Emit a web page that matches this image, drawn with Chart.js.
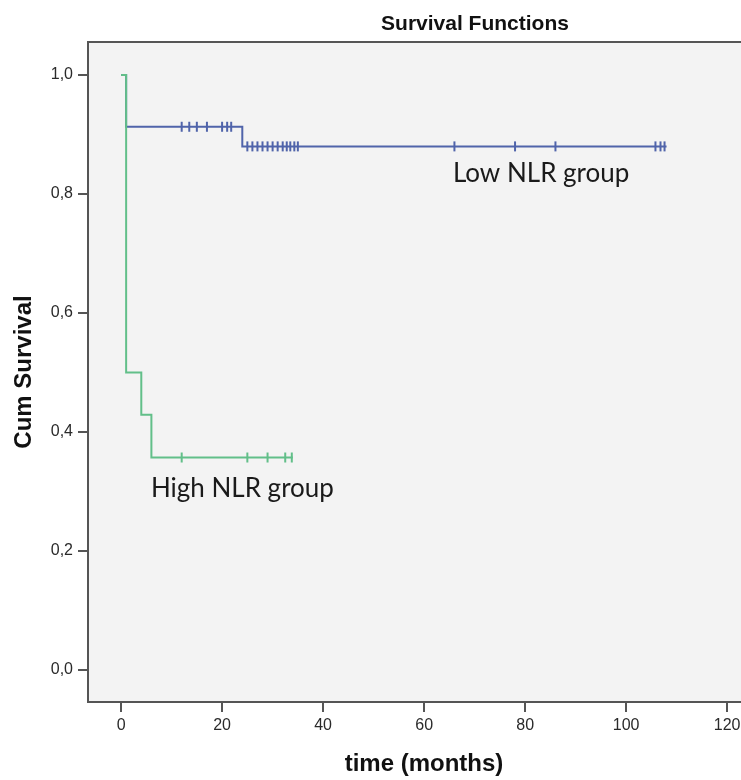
<!DOCTYPE html>
<html>
<head>
<meta charset="utf-8">
<script src="https://cdn.jsdelivr.net/npm/chart.js@4"></script>
<style>
html,body{margin:0;padding:0;background:#fff;overflow:hidden;width:741px;height:780px;}
#wrap{width:780px;height:780px;}
</style>
</head>
<body>
<div id="wrap"><canvas id="c" width="780" height="780"></canvas></div>
<script>
// ---- data ----
const chartTitle = 'Survival Functions';
const xAxisTitle = 'time (months)';
const yAxisTitle = 'Cum Survival';
const xTickValues = [0, 20, 40, 60, 80, 100, 120];
const xTickLabels = ['0', '20', '40', '60', '80', '100', '120'];
const yTickValues = [0, 0.2, 0.4, 0.6, 0.8, 1.0];
const yTickLabels = ['0,0', '0,2', '0,4', '0,6', '0,8', '1,0'];

// Low NLR group: step function (time, cumulative survival)
const lowTimes = [0, 1, 24, 108];
const lowSurv  = [1, 0.913, 0.880, 0.880];
const lowCensored = [12, 13.5, 15, 17, 20, 21, 21.8, 25, 26, 27, 28, 29, 30, 31, 32, 32.8, 33.5, 34.3, 35, 66, 78, 86, 105.8, 106.8, 107.6];

// High NLR group
const highTimes = [0, 1, 4, 6, 34];
const highSurv  = [1, 0.5, 0.429, 0.357, 0.357];
const highCensored = [12, 25, 29, 32.5, 33.8];

const lowLabel = 'Low NLR group';
const highLabel = 'High NLR group';

// ---- build datasets ----
function steps(times, surv){ return times.map((t,i)=>({x:t, y:surv[i]})); }
function survAt(times, surv, t){ let v = surv[0]; for(let i=0;i<times.length;i++){ if(times[i] <= t) v = surv[i]; } return v; }
function censorPts(cens, times, surv){ return cens.map(t=>({x:t, y:survAt(times, surv, t)})); }

const BLUE = '#5064aa';
const GREEN = '#62bf89';

const framePlugin = {
  id: 'frame',
  beforeDraw(chart){
    const {ctx, chartArea:a} = chart;
    ctx.save();
    ctx.fillStyle = '#ffffff';
    ctx.fillRect(0,0,chart.width,chart.height);
    ctx.fillStyle = '#f3f3f3';
    ctx.fillRect(a.left, a.top, a.right-a.left, a.bottom-a.top);
    ctx.restore();
  },
  afterDraw(chart){
    const {ctx, chartArea:a, scales} = chart;
    ctx.save();
    ctx.strokeStyle = '#555';
    ctx.lineWidth = 2;
    ctx.strokeRect(a.left, a.top, a.right-a.left, a.bottom-a.top);
    ctx.fillStyle = '#111';
    ctx.font = 'bold 21px "Liberation Sans", Arial, sans-serif';
    ctx.textAlign = 'center';
    ctx.textBaseline = 'alphabetic';
    ctx.fillText(chartTitle, 475, 30);
    ctx.font = '26px Lato, "Open Sans", sans-serif';
    ctx.textAlign = 'left';
    ctx.fillStyle = '#1a1a1a';
    ctx.fillText(lowLabel, scales.x.getPixelForValue(65.7), scales.y.getPixelForValue(0.82));
    ctx.fillText(highLabel, scales.x.getPixelForValue(5.9), scales.y.getPixelForValue(0.291));
    ctx.restore();
  }
};

new Chart(document.getElementById('c'), {
  type: 'line',
  data: {
    datasets: [
      { data: steps(lowTimes, lowSurv), stepped: 'before', borderColor: BLUE, borderWidth: 2, pointRadius: 0, fill: false, order: 3 },
      { data: censorPts(lowCensored, lowTimes, lowSurv), showLine: false, pointStyle: 'line', rotation: 90, pointRadius: 5, borderColor: BLUE, borderWidth: 2, order: 2 },
      { data: steps(highTimes, highSurv), stepped: 'before', borderColor: GREEN, borderWidth: 2, pointRadius: 0, fill: false, order: 1 },
      { data: censorPts(highCensored, highTimes, highSurv), showLine: false, pointStyle: 'line', rotation: 90, pointRadius: 5, borderColor: GREEN, borderWidth: 2, order: 0 }
    ]
  },
  options: {
    responsive: false,
    animation: false,
    events: [],
    layout: { padding: { top: 42, right: 20, left: 0, bottom: 0 } },
    plugins: { legend: { display: false }, tooltip: { enabled: false }, title: { display: false } },
    scales: {
      x: {
        type: 'linear', min: -6.55, max: 126.5,
        afterFit(s){ s.height = 78; },
        afterBuildTicks(s){ s.ticks = xTickValues.map(v=>({value:v})); },
        border: { display: false },
        grid: { drawOnChartArea: false, drawTicks: true, tickLength: 10, color: '#555', lineWidth: 2 },
        ticks: { includeBounds: false, padding: 4, color: '#2a2a2a', font: { family: '"Liberation Sans", Arial, sans-serif', size: 16 },
                 callback(v){ const i = xTickValues.indexOf(v); return i >= 0 ? xTickLabels[i] : ''; }, maxRotation: 0 },
        title: { display: true, text: xAxisTitle, color: '#111', font: { family: '"Liberation Sans", Arial, sans-serif', size: 24, weight: 'bold' }, padding: { top: 0, bottom: 1 } }
      },
      y: {
        type: 'linear', min: -0.054, max: 1.0555,
        afterFit(s){ s.width = 88; },
        afterBuildTicks(s){ s.ticks = yTickValues.map(v=>({value:v})); },
        border: { display: false },
        grid: { drawOnChartArea: false, drawTicks: true, tickLength: 10, color: '#555', lineWidth: 2 },
        ticks: { includeBounds: false, padding: 5, color: '#2a2a2a', font: { family: '"Liberation Sans", Arial, sans-serif', size: 16 },
                 callback(v){ const i = yTickValues.findIndex(t=>Math.abs(t-v)<1e-9); return i >= 0 ? yTickLabels[i] : ''; } },
        title: { display: true, text: yAxisTitle, color: '#111', font: { family: '"Liberation Sans", Arial, sans-serif', size: 24, weight: 'bold' }, padding: { top: 10, bottom: 0 } }
      }
    }
  },
  plugins: [framePlugin]
});
</script>
</body>
</html>
